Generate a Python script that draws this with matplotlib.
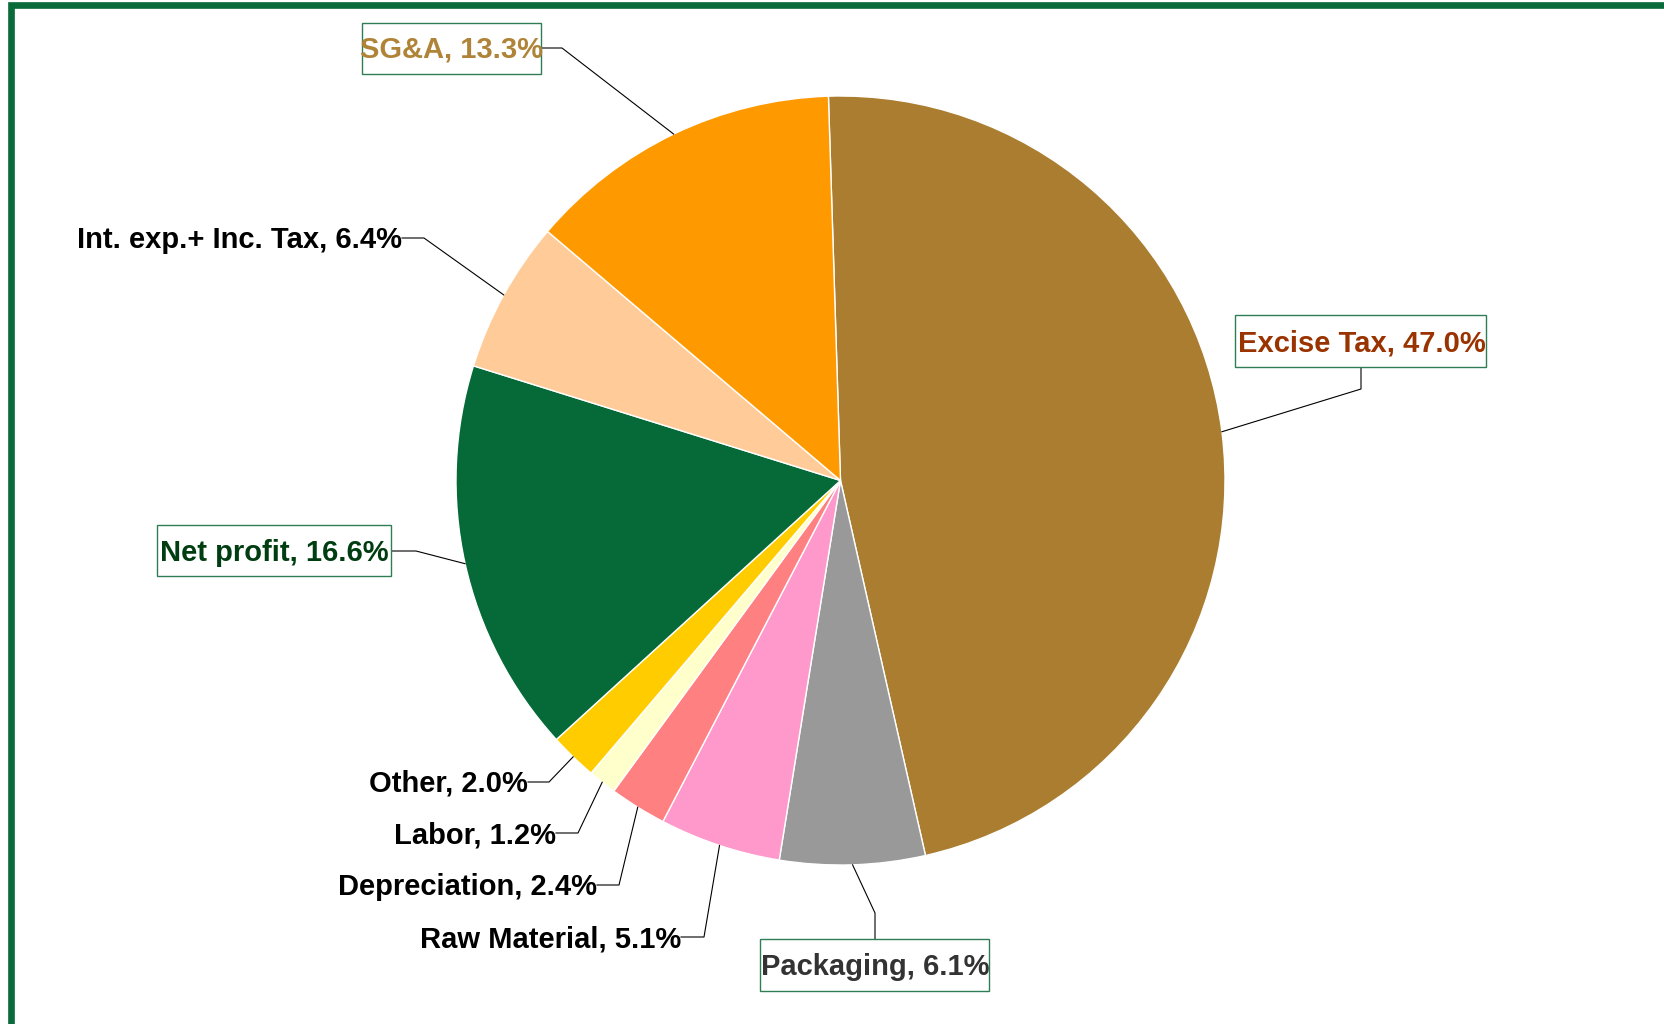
import numpy as np
import matplotlib
matplotlib.use("Agg")
import matplotlib.pyplot as plt
from matplotlib.patches import Rectangle
from matplotlib.lines import Line2D

# Cost breakdown, clockwise from the top
categories = ["Excise Tax", "Packaging", "Raw Material", "Depreciation", "Labor",
              "Other", "Net profit", "Int. exp.+ Inc. Tax", "SG&A"]
shares = [47.0, 6.1, 5.1, 2.4, 1.2, 2.0, 16.6, 6.4, 13.3]
colors = ["#AA7D30", "#999999", "#FF99CC", "#FF8080", "#FFFFCC",
          "#FFCC00", "#066A38", "#FFCC99", "#FF9900"]
text_colors = ["#993300", "#333333", "black", "black", "black",
               "black", "#003D10", "black", "#B08438"]
boxed = [True, True, False, False, False, False, True, False, True]

W, H = 1664, 1024
plt.rcParams["font.family"] = ["Liberation Sans", "DejaVu Sans"]

fig = plt.figure(figsize=(W / 100, H / 100), dpi=100)
ax = fig.add_axes([0, 0, 1, 1])

cx, cy, R = 840.5, 480.5, 384.5

def Y(y):
    return H - y

wedges, _ = ax.pie(shares, colors=colors, startangle=91.8, counterclock=False,
                   center=(cx, Y(cy)), radius=R,
                   wedgeprops=dict(edgecolor="white", linewidth=1.0))

# label layout: (text anchor x, y, horizontal alignment, elbow point, box extents)
layout = {
    "Excise Tax":          dict(x=1362, y=343, ha="center", elbow=(1361, 389), anchor=(1361, 367),
                                box=(1235, 315, 1486, 367)),
    "Packaging":           dict(x=875, y=967, ha="center", elbow=(875, 913), anchor=(875, 939),
                                box=(760, 939, 989, 991)),
    "Raw Material":        dict(x=681, y=939, ha="right", elbow=(704, 937), anchor=(681, 937)),
    "Depreciation":        dict(x=597, y=887, ha="right", elbow=(619, 885), anchor=(597, 885)),
    "Labor":               dict(x=556, y=835, ha="right", elbow=(578, 833), anchor=(556, 833)),
    "Other":               dict(x=528, y=784, ha="right", elbow=(549, 782), anchor=(528, 782)),
    "Net profit":          dict(x=274, y=553, ha="center", elbow=(416, 551), anchor=(391, 551),
                                box=(157, 525, 391, 576)),
    "Int. exp.+ Inc. Tax": dict(x=402, y=240, ha="right", elbow=(424, 238), anchor=(402, 238)),
    "SG&A":                dict(x=452, y=50, ha="center", elbow=(562, 48), anchor=(541, 48),
                                box=(362, 23, 541, 74)),
}

for name, val, w, tc, has_box in zip(categories, shares, wedges, text_colors, boxed):
    L = layout[name]
    mid = np.deg2rad((w.theta1 + w.theta2) / 2)
    ex, ey = cx + R * np.cos(mid), Y(cy) + R * np.sin(mid)
    ax.add_line(Line2D([L["anchor"][0], L["elbow"][0], ex],
                       [Y(L["anchor"][1]), Y(L["elbow"][1]), ey],
                       color="black", lw=0.8, zorder=3))
    if has_box:
        x0, y0, x1, y1 = L["box"]
        ax.add_patch(Rectangle((x0, Y(y1)), x1 - x0, y1 - y0, facecolor="white",
                               edgecolor="#2E7D55", lw=1.0, zorder=4))
    ax.text(L["x"], Y(L["y"]), f"{name}, {val:.1f}%", ha=L["ha"], va="center",
            fontsize=21, fontweight="bold", color=tc, zorder=5)

ax.set_xlim(0, W)
ax.set_ylim(0, H)
ax.set_aspect("equal")
ax.axis("off")

# green frame along the top and left edges
fig.add_artist(Line2D([11 / W, 11 / W, 1.01], [-0.01, 1 - 5 / H, 1 - 5 / H],
                      transform=fig.transFigure, color="#0A6B3A", lw=4.8,
                      solid_joinstyle="miter"))

fig.savefig("out.png", dpi=100, facecolor="white")
